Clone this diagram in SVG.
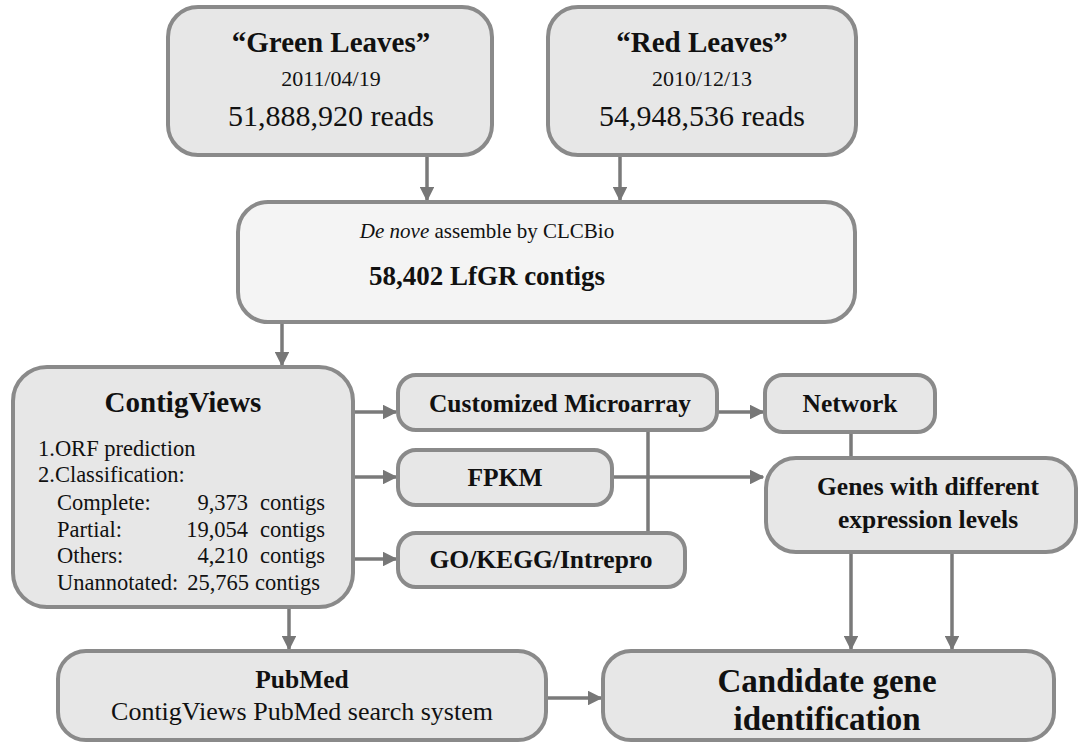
<svg xmlns="http://www.w3.org/2000/svg" width="1079" height="744" viewBox="0 0 1079 744">
<defs>
<marker id="ah" viewBox="0 0 10 10" refX="9" refY="5" markerWidth="4.2" markerHeight="4.2" orient="auto" markerUnits="strokeWidth">
<path d="M0,0 L10,5 L0,10 z" fill="#777"/>
</marker>
<style>
.box{fill:#e7e7e7;stroke:#8a8a8a;stroke-width:4}
.light{fill:#f4f4f4;stroke:#8a8a8a;stroke-width:4}
.c{stroke:#7a7a7a;stroke-width:3.5;fill:none}
.a{stroke:#7a7a7a;stroke-width:3.5;fill:none;marker-end:url(#ah)}
.b{font-weight:bold}
.m{text-anchor:middle}
</style>
</defs>
<rect width="1079" height="744" fill="#fff"/>

<g id="connectors">
<line class="a" x1="427" y1="156" x2="427" y2="200"/>
<line class="a" x1="620" y1="156" x2="620" y2="200"/>
<line class="a" x1="282" y1="323" x2="282" y2="365"/>
<line class="a" x1="354" y1="412" x2="396" y2="412"/>
<line class="a" x1="354" y1="477" x2="396" y2="477"/>
<line class="a" x1="354" y1="559" x2="396" y2="559"/>
<line class="c" x1="648" y1="431" x2="648" y2="533"/>
<line class="a" x1="718" y1="412" x2="763" y2="412"/>
<line class="a" x1="613" y1="477" x2="763" y2="477"/>
<line class="c" x1="851" y1="433" x2="851" y2="458"/>
<line class="a" x1="851" y1="553" x2="851" y2="649"/>
<line class="a" x1="952" y1="553" x2="952" y2="649"/>
<line class="a" x1="289" y1="608" x2="289" y2="649"/>
<line class="a" x1="547" y1="698" x2="601" y2="698"/>
</g>

<g font-family="'Liberation Serif', 'DejaVu Serif', serif" fill="#111">
<g id="green">
<rect class="box" x="168" y="7" width="324" height="148" rx="30"/>
<text class="b m" x="331" y="52" font-size="29">“Green Leaves”</text>
<text class="m" x="331" y="86" font-size="22">2011/04/19</text>
<text class="m" x="331" y="126" font-size="30">51,888,920 reads</text>
</g>

<g id="red">
<rect class="box" x="548" y="7" width="308" height="148" rx="30"/>
<text class="b m" x="702" y="52" font-size="29">“Red Leaves”</text>
<text class="m" x="702" y="86" font-size="22">2010/12/13</text>
<text class="m" x="702" y="126" font-size="30">54,948,536 reads</text>
</g>

<g id="denovo">
<rect class="light" x="238" y="202" width="617" height="120" rx="30"/>
<text class="m" x="487" y="238" font-size="21"><tspan font-style="italic">De nove</tspan> assemble by CLCBio</text>
<text class="b m" x="487" y="285" font-size="27">58,402 LfGR contigs</text>
</g>

<g id="contigviews">
<rect class="box" x="13" y="367" width="340" height="240" rx="34"/>
<text class="b m" x="183" y="412" font-size="29">ContigViews</text>
<g font-size="22.5">
<text x="38" y="456">1.ORF prediction</text>
<text x="38" y="482">2.Classification:</text>
<text x="57" y="510">Complete:</text>
<text x="57" y="537">Partial:</text>
<text x="57" y="563">Others:</text>
<text x="57" y="590">Unannotated:</text>
<text x="248" y="510" text-anchor="end">9,373</text>
<text x="248" y="537" text-anchor="end">19,054</text>
<text x="248" y="563" text-anchor="end">4,210</text>
<text x="249" y="590" text-anchor="end">25,765</text>
<text x="260" y="510">contigs</text>
<text x="260" y="537">contigs</text>
<text x="260" y="563">contigs</text>
<text x="255" y="590">contigs</text>
</g>
</g>

<g id="microarray">
<rect class="box" x="398" y="375" width="319" height="55" rx="18"/>
<text class="b m" x="560" y="412" font-size="25.5">Customized Microarray</text>
</g>

<g id="fpkm">
<rect class="box" x="398" y="450" width="214" height="55" rx="18"/>
<text class="b m" x="505" y="486" font-size="25.5">FPKM</text>
</g>

<g id="gokegg">
<rect class="box" x="398" y="533" width="287" height="54" rx="18"/>
<text class="b m" x="541" y="568" font-size="25.5">GO/KEGG/Intrepro</text>
</g>

<g id="network">
<rect class="box" x="765" y="375" width="170" height="57" rx="18"/>
<text class="b m" x="850" y="412" font-size="25.5">Network</text>
</g>

<g id="genes">
<rect class="box" x="766" y="458" width="310" height="94" rx="30"/>
<text class="b m" x="928" y="495" font-size="25.5">Genes with different</text>
<text class="b m" x="928" y="528" font-size="25.5">expression levels</text>
</g>

<g id="pubmed">
<rect class="box" x="58" y="651" width="488" height="89" rx="28"/>
<text class="b m" x="302" y="688" font-size="25.5">PubMed</text>
<text class="m" x="302" y="720" font-size="26">ContigViews PubMed search system</text>
</g>

<g id="candidate">
<rect class="box" x="603" y="651" width="451" height="89" rx="28"/>
<text class="b m" x="827" y="692" font-size="33">Candidate gene</text>
<text class="b m" x="827" y="730" font-size="33">identification</text>
</g>
</g>
</svg>
